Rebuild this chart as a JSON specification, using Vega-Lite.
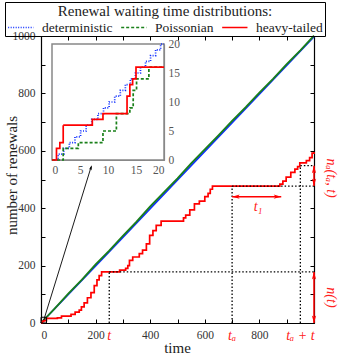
{
"$schema":"https://vega.github.io/schema/vega-lite/v6.json",
"width":273,"height":287,
"autosize":{"type":"none"},
"padding":{"left":41,"top":36,"right":27,"bottom":34},
"background":"white",
"config":{
 "view":{"stroke":null},
 "font":"Liberation Serif",
 "axis":{"grid":false,"labelFont":"Liberation Serif","titleFont":"Liberation Serif","labelFontSize":11.5,"titleFontSize":15,"titleFontWeight":"normal","labelColor":"#333","titleColor":"#222","domainColor":"black","tickColor":"black","domainWidth":1.2,"tickWidth":1}
},
"datasets":{
 "mainSmooth":[
  {"s":"deterministic","t":0,"n":0},{"s":"deterministic","t":250,"n":249},{"s":"deterministic","t":500,"n":499},{"s":"deterministic","t":750,"n":748},{"s":"deterministic","t":1000,"n":998},
  {"s":"Poissonian","t":0,"n":0},{"s":"Poissonian","t":50,"n":50},{"s":"Poissonian","t":100,"n":102},{"s":"Poissonian","t":150,"n":151},{"s":"Poissonian","t":200,"n":204},{"s":"Poissonian","t":250,"n":252},{"s":"Poissonian","t":300,"n":304},{"s":"Poissonian","t":350,"n":353},{"s":"Poissonian","t":400,"n":406},{"s":"Poissonian","t":450,"n":455},{"s":"Poissonian","t":500,"n":504},{"s":"Poissonian","t":550,"n":556},{"s":"Poissonian","t":600,"n":605},{"s":"Poissonian","t":650,"n":654},{"s":"Poissonian","t":700,"n":704},{"s":"Poissonian","t":750,"n":752},{"s":"Poissonian","t":800,"n":803},{"s":"Poissonian","t":850,"n":851},{"s":"Poissonian","t":900,"n":902},{"s":"Poissonian","t":950,"n":950},{"s":"Poissonian","t":1000,"n":1001}
 ],
 "mainHeavy":[
  {"s":"heavy-tailed","t":0,"n":0},{"s":"heavy-tailed","t":5,"n":6},{"s":"heavy-tailed","t":10,"n":8},{"s":"heavy-tailed","t":20,"n":16},{"s":"heavy-tailed","t":60,"n":18},{"s":"heavy-tailed","t":75,"n":24},{"s":"heavy-tailed","t":110,"n":30},{"s":"heavy-tailed","t":125,"n":38},{"s":"heavy-tailed","t":140,"n":45},{"s":"heavy-tailed","t":148,"n":56},{"s":"heavy-tailed","t":158,"n":70},{"s":"heavy-tailed","t":170,"n":88},{"s":"heavy-tailed","t":183,"n":106},{"s":"heavy-tailed","t":195,"n":130},{"s":"heavy-tailed","t":205,"n":150},{"s":"heavy-tailed","t":213,"n":165},{"s":"heavy-tailed","t":222,"n":178},{"s":"heavy-tailed","t":288,"n":184},{"s":"heavy-tailed","t":310,"n":190},{"s":"heavy-tailed","t":318,"n":200},{"s":"heavy-tailed","t":324,"n":218},{"s":"heavy-tailed","t":336,"n":230},{"s":"heavy-tailed","t":360,"n":242},{"s":"heavy-tailed","t":372,"n":254},{"s":"heavy-tailed","t":386,"n":276},{"s":"heavy-tailed","t":398,"n":305},{"s":"heavy-tailed","t":410,"n":322},{"s":"heavy-tailed","t":422,"n":340},{"s":"heavy-tailed","t":440,"n":355},{"s":"heavy-tailed","t":522,"n":366},{"s":"heavy-tailed","t":530,"n":376},{"s":"heavy-tailed","t":545,"n":394},{"s":"heavy-tailed","t":562,"n":415},{"s":"heavy-tailed","t":580,"n":425},{"s":"heavy-tailed","t":600,"n":440},{"s":"heavy-tailed","t":612,"n":452},{"s":"heavy-tailed","t":620,"n":466},{"s":"heavy-tailed","t":628,"n":477},{"s":"heavy-tailed","t":875,"n":484},{"s":"heavy-tailed","t":886,"n":494},{"s":"heavy-tailed","t":898,"n":508},{"s":"heavy-tailed","t":915,"n":525},{"s":"heavy-tailed","t":930,"n":536},{"s":"heavy-tailed","t":940,"n":545},{"s":"heavy-tailed","t":948,"n":558},{"s":"heavy-tailed","t":972,"n":566},{"s":"heavy-tailed","t":984,"n":576},{"s":"heavy-tailed","t":993,"n":592},{"s":"heavy-tailed","t":1000,"n":596}
 ],
 "inset":[
  {"s":"deterministic","t":0,"n":0},{"s":"deterministic","t":1.1,"n":1},{"s":"deterministic","t":2.1,"n":2},{"s":"deterministic","t":3.1,"n":3},{"s":"deterministic","t":4.1,"n":4},{"s":"deterministic","t":5.1,"n":5},{"s":"deterministic","t":6.1,"n":6},{"s":"deterministic","t":7.1,"n":7},{"s":"deterministic","t":8.2,"n":8},{"s":"deterministic","t":9.2,"n":9},{"s":"deterministic","t":10.2,"n":10},{"s":"deterministic","t":11.2,"n":11},{"s":"deterministic","t":12.2,"n":12},{"s":"deterministic","t":13.1,"n":13},{"s":"deterministic","t":14.0,"n":14},{"s":"deterministic","t":14.9,"n":15},{"s":"deterministic","t":15.8,"n":16},{"s":"deterministic","t":16.7,"n":17},{"s":"deterministic","t":17.6,"n":18},{"s":"deterministic","t":18.5,"n":19},{"s":"deterministic","t":19.4,"n":20},{"s":"deterministic","t":20,"n":20},
  {"s":"Poissonian","t":0,"n":0},{"s":"Poissonian","t":2.0,"n":2},{"s":"Poissonian","t":4.7,"n":3},{"s":"Poissonian","t":9.1,"n":5},{"s":"Poissonian","t":11.5,"n":8},{"s":"Poissonian","t":13.9,"n":9},{"s":"Poissonian","t":14.5,"n":12},{"s":"Poissonian","t":15.1,"n":14},{"s":"Poissonian","t":17.3,"n":16},{"s":"Poissonian","t":20,"n":16},
  {"s":"heavy-tailed","t":0,"n":0},{"s":"heavy-tailed","t":0.8,"n":2},{"s":"heavy-tailed","t":1.4,"n":3},{"s":"heavy-tailed","t":2.0,"n":6},{"s":"heavy-tailed","t":7.2,"n":7},{"s":"heavy-tailed","t":9.1,"n":8},{"s":"heavy-tailed","t":13.4,"n":11},{"s":"heavy-tailed","t":13.9,"n":13},{"s":"heavy-tailed","t":14.4,"n":14},{"s":"heavy-tailed","t":15.0,"n":16},{"s":"heavy-tailed","t":20,"n":16}
 ],
 "dotted":[
  {"xa":250,"ya":0,"xb":250,"yb":178},{"xa":250,"ya":178,"xb":1000,"yb":178},
  {"xa":700,"ya":0,"xb":700,"yb":477},{"xa":700,"ya":477,"xb":1000,"yb":477},
  {"xa":950,"ya":0,"xb":950,"yb":548},{"xa":950,"ya":548,"xb":1000,"yb":548}
 ],
 "redarrows":[
  {"xa":700,"ya":440,"xb":880,"yb":440},{"xa":1000,"ya":0,"xb":1000,"yb":178},{"xa":1000,"ya":477,"xb":1000,"yb":548}
 ],
 "heads":[
  {"t":700,"n":440,"dir":"left"},{"t":880,"n":440,"dir":"right"},{"t":1000,"n":178,"dir":"up"},{"t":1000,"n":0,"dir":"down"},{"t":1000,"n":548,"dir":"up"},{"t":1000,"n":477,"dir":"down"}
 ],
 "connector":[{"xa":10,"ya":10,"xb":184,"yb":545}],
 "connectorHead":[{"t":186,"n":550}],
 "originBox":[{"lo":0,"hi":20}],
 "axisLabels":[{"t":250,"n":0,"label":"t"},{"t":700,"n":0,"label":"tₐ"},{"t":950,"n":0,"label":"tₐ + t"}],
 "t1Label":[{"t":795,"n":405,"label":"t₁"}],
 "sideLabels":[{"t":1062,"n":89,"label":"n(t)"},{"t":1062,"n":505,"label":"nₐ(tₐ, t)"}]
},
"resolve":{"scale":{"x":"independent","y":"independent"}},
"layer":[
 {
  "resolve":{"axis":{"x":"independent","y":"independent"}},
  "layer":[
   {"data":{"name":"mainSmooth"},"mark":{"type":"line","strokeWidth":1.8},
    "encoding":{
     "x":{"field":"t","type":"quantitative","scale":{"domain":[0,1000],"nice":false},"axis":{"orient":"bottom","values":[0,100,200,300,400,500,600,700,800,900,1000],"format":"d","labelExpr":"datum.value % 200 === 0 && datum.value < 1000 ? datum.label : ''","tickSize":-4,"labelPadding":10,"labelFont":"Liberation Serif","title":"time","titleX":136,"titleY":17,"titleBaseline":"top"}},
     "y":{"field":"n","type":"quantitative","scale":{"domain":[0,1000],"nice":false},"axis":{"orient":"left","values":[0,100,200,300,400,500,600,700,800,900,1000],"format":"d","labelExpr":"datum.value % 200 === 0 ? datum.label : ''","tickSize":-4,"labelPadding":10,"labelFont":"Liberation Serif","title":"number of renewals","titleX":-30,"titleY":139,"titleAngle":-90,"titleBaseline":"middle","titleAlign":"center"}},
     "color":{"field":"s","type":"nominal","scale":{"domain":["deterministic","Poissonian","heavy-tailed"],"range":["#1030ff","#1a801a","#ff0000"]},
      "legend":{"title":"Renewal waiting time distributions:","orient":"none","legendX":-36,"legendY":-34,"direction":"horizontal","symbolType":"M-1,0L3,0","symbolSize":160,"symbolStrokeWidth":1.5,"labelFont":"Liberation Serif","labelFontSize":13.5,"labelColor":"#222","titleFont":"Liberation Serif","titleFontSize":15,"titleFontWeight":"normal","titleAnchor":"middle","titleColor":"#222","titleLimit":400,"strokeColor":"black","padding":2,"columnPadding":5,"labelOffset":20,"titlePadding":1}}
    }},
   {"data":{"name":"mainHeavy"},"mark":{"type":"line","strokeWidth":1.7,"interpolate":"step-after"},
    "encoding":{
     "x":{"field":"t","type":"quantitative","scale":{"domain":[0,1000],"nice":false},"axis":null},
     "y":{"field":"n","type":"quantitative","scale":{"domain":[0,1000],"nice":false},"axis":null},
     "color":{"field":"s","type":"nominal"}
    }},
   {"data":{"name":"dotted"},"mark":{"type":"rule","color":"black","strokeDash":[1.5,2],"strokeWidth":1.3},
    "encoding":{
     "x":{"field":"xa","type":"quantitative","scale":{"domain":[0,1000],"nice":false},"axis":{"orient":"top","values":[0,100,200,300,400,500,600,700,800,900,1000],"labels":false,"tickSize":-4,"title":null}},
     "x2":{"field":"xb"},
     "y":{"field":"ya","type":"quantitative","scale":{"domain":[0,1000],"nice":false},"axis":{"orient":"right","values":[0,100,200,300,400,500,600,700,800,900,1000],"labels":false,"tickSize":-4,"title":null}},
     "y2":{"field":"yb"}
    }},
   {"data":{"name":"redarrows"},"mark":{"type":"rule","color":"#ff0000","strokeWidth":1.5},
    "encoding":{
     "x":{"field":"xa","type":"quantitative","scale":{"domain":[0,1000],"nice":false},"axis":null},
     "x2":{"field":"xb"},
     "y":{"field":"ya","type":"quantitative","scale":{"domain":[0,1000],"nice":false},"axis":null},
     "y2":{"field":"yb"}
    }},
   {"data":{"name":"heads"},"mark":{"type":"point","filled":true,"color":"#ff0000","size":90,"opacity":1},
    "encoding":{
     "x":{"field":"t","type":"quantitative","scale":{"domain":[0,1000],"nice":false},"axis":null},
     "y":{"field":"n","type":"quantitative","scale":{"domain":[0,1000],"nice":false},"axis":null},
     "shape":{"field":"dir","type":"nominal","legend":null,"scale":{"domain":["up","down","left","right"],"range":["M0,0L0.45,1.6L0,1.2L-0.45,1.6Z","M0,0L0.45,-1.6L0,-1.2L-0.45,-1.6Z","M0,0L1.6,0.45L1.2,0L1.6,-0.45Z","M0,0L-1.6,0.45L-1.2,0L-1.6,-0.45Z"]}}
    }},
   {"data":{"name":"connector"},"mark":{"type":"rule","color":"black","strokeWidth":0.9},
    "encoding":{
     "x":{"field":"xa","type":"quantitative","scale":{"domain":[0,1000],"nice":false},"axis":null},
     "x2":{"field":"xb"},
     "y":{"field":"ya","type":"quantitative","scale":{"domain":[0,1000],"nice":false},"axis":null},
     "y2":{"field":"yb"}
    }},
   {"data":{"name":"connectorHead"},"mark":{"type":"point","filled":true,"color":"black","size":40,"opacity":1,"angle":17,"shape":"M0,0L0.45,1.6L0,1.2L-0.45,1.6Z"},
    "encoding":{
     "x":{"field":"t","type":"quantitative","scale":{"domain":[0,1000],"nice":false},"axis":null},
     "y":{"field":"n","type":"quantitative","scale":{"domain":[0,1000],"nice":false},"axis":null}
    }},
   {"data":{"name":"originBox"},"mark":{"type":"rect","fill":null,"stroke":"black","strokeWidth":1},
    "encoding":{
     "x":{"field":"lo","type":"quantitative","scale":{"domain":[0,1000],"nice":false},"axis":null},
     "x2":{"field":"hi"},
     "y":{"field":"lo","type":"quantitative","scale":{"domain":[0,1000],"nice":false},"axis":null},
     "y2":{"field":"hi"}
    }},
   {"data":{"name":"axisLabels"},"mark":{"type":"text","color":"#ff2020","font":"Liberation Serif","fontStyle":"italic","fontSize":14,"baseline":"alphabetic","align":"center","dy":17},
    "encoding":{
     "x":{"field":"t","type":"quantitative","scale":{"domain":[0,1000],"nice":false},"axis":null},
     "y":{"field":"n","type":"quantitative","scale":{"domain":[0,1000],"nice":false},"axis":null},
     "text":{"field":"label"}
    }},
   {"data":{"name":"t1Label"},"mark":{"type":"text","color":"#ff2020","font":"Liberation Serif","fontStyle":"italic","fontSize":14,"baseline":"middle","align":"center"},
    "encoding":{
     "x":{"field":"t","type":"quantitative","scale":{"domain":[0,1000],"nice":false},"axis":null},
     "y":{"field":"n","type":"quantitative","scale":{"domain":[0,1000],"nice":false},"axis":null},
     "text":{"field":"label"}
    }},
   {"data":{"name":"sideLabels"},"mark":{"type":"text","color":"#ff2020","font":"Liberation Serif","fontStyle":"italic","fontSize":14,"baseline":"middle","align":"center","angle":90},
    "encoding":{
     "x":{"field":"t","type":"quantitative","scale":{"domain":[0,1000],"nice":false},"axis":null},
     "y":{"field":"n","type":"quantitative","scale":{"domain":[0,1000],"nice":false},"axis":null},
     "text":{"field":"label"}
    }}
  ]
 },
 {
  "layer":[
   {"data":{"name":"originBox"},"mark":{"type":"rect","fill":"white","stroke":"#888","strokeWidth":1.5},
    "encoding":{
     "x":{"field":"lo","type":"quantitative","scale":{"domain":[0,20],"range":[11,123],"nice":false},"axis":{"orient":"bottom","offset":-163,"values":[0,5,10,15,20],"tickSize":-3,"labelPadding":7,"title":null,"domainColor":"#888","tickColor":"#888","labelColor":"#555","labelFontSize":11.5,"labelFont":"Liberation Serif"}},
     "x2":{"field":"hi"},
     "y":{"field":"lo","type":"quantitative","scale":{"domain":[0,20],"range":[124,8],"nice":false},"axis":{"orient":"right","offset":-150,"values":[0,5,10,15,20],"tickSize":-3,"labelPadding":7,"title":null,"domainColor":"#888","tickColor":"#888","labelColor":"#555","labelFontSize":11.5,"labelFont":"Liberation Serif"}},
     "y2":{"field":"hi"}
    }},
   {"data":{"name":"inset"},"mark":{"type":"line","interpolate":"step-after","strokeWidth":1.7},
    "encoding":{
     "x":{"field":"t","type":"quantitative","scale":{"domain":[0,20],"range":[11,123],"nice":false}},
     "y":{"field":"n","type":"quantitative","scale":{"domain":[0,20],"range":[124,8],"nice":false}},
     "color":{"field":"s","type":"nominal"},
     "strokeDash":{"field":"s","type":"nominal","scale":{"domain":["deterministic","Poissonian","heavy-tailed"],"range":[[1,1.5],[3,2],[1,0]]}}
    }}
  ]
 }
]
}
